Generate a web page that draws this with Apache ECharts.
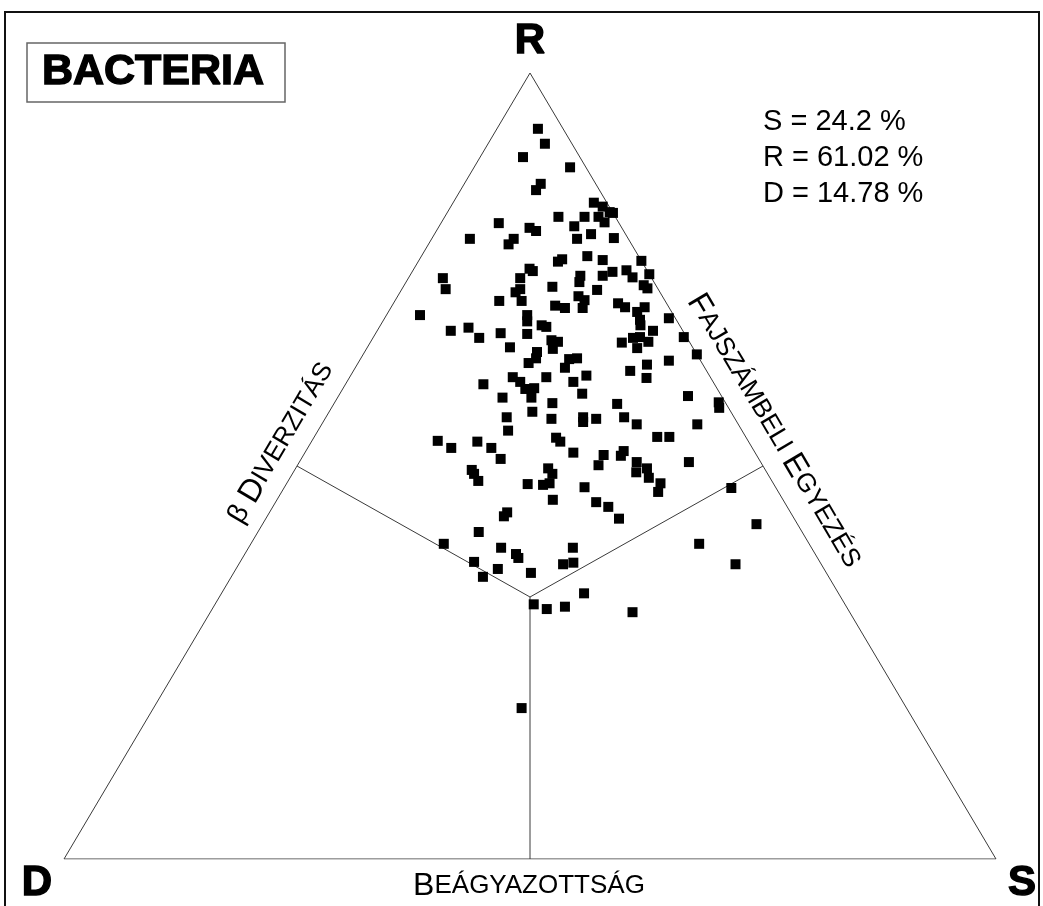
<!DOCTYPE html>
<html>
<head>
<meta charset="utf-8">
<script src="https://cdn.jsdelivr.net/npm/echarts@6/dist/echarts.min.js"></script>
<style>
  html, body { margin: 0; padding: 0; background: #ffffff; }
  #chart { width: 1043px; height: 906px; }
</style>
</head>
<body>
<div id="chart"></div>
<script>
// Ternary (CSR) composition of each bacterial community, in percent.
// S = competitor/stress share, R = ruderal share, D = remainder (100 - S - R).
const sShare = [
  4.4, 6.1, 4.6, 10.3, 8.2, 8.1, 12.2, 15.0, 6.2, 14.5, 9.8, 10.7, 4.1, 8.8, 8.6, 15.6, 16.8,
  15.1, 16.3, 17.4, 17.8, 16.5, 17.5, 19.5,
  15.3, 15.0, 17.8, 12.4, 12.9, 3.7, 4.7, 12.0, 16.0, 18.3, 18.6, 12.7, 12.4, 11.2, 13.6, 19.4,
  20.3, 20.6, 17.5, 18.7, 3.6, 15.1, 15.5, 7.9, 9.6, 11.4, 13.4, 16.3, 17.3, 17.9, 19.3, 20.1,
  20.0, 15.3, 18.5, 18.8, 18.3, 22.4, 23.2, 22.5,
  19.7, 23.9, 21.5, 20.7, 22.9, 24.0, 25.6, 25.7, 26.3, 21.0, 24.1, 25.1, 26.7, 27.2, 27.5, 27.9,
  30.5, 29.6, 33.3, 27.0, 27.9, 28.6, 29.8, 29.0, 35.8, 31.1, 33.2, 29.7,
  14.8, 17.5, 18.6, 19.6, 20.5, 21.1, 24.3, 25.3, 17.7, 20.8, 23.4, 26.0, 19.4, 21.8, 24.3, 27.6,
  27.9, 20.4, 13.5, 15.4, 17.8, 19.7, 21.4, 26.0, 26.7, 28.8, 19.0, 19.5, 20.4, 27.1, 27.9, 28.2,
  27.6, 25.9, 29.6, 32.2,
  31.9, 37.5, 41.2, 41.6, 30.4, 29.1, 32.0, 33.8, 40.3, 36.8, 38.1, 32.2, 34.1, 34.1, 32.3, 36.2,
  36.8, 37.7, 38.5, 40.1, 40.4, 41.8, 48.0, 34.4, 36.0,
  25.5, 25.4, 37.9, 53.0, 23.7, 20.7, 27.1, 29.1, 29.6, 34.8, 48.1, 25.1, 28.1, 27.0, 31.9, 34.8,
  35.8, 53.3, 38.9, 34.2, 35.9, 37.7, 45.3, 39.5
];
const rShare = [
  92.9, 91.0, 89.3, 88.0, 85.9, 85.1, 81.7, 81.7, 80.9, 80.5, 80.3, 79.9, 78.9, 78.9, 78.2, 78.9, 79.5,
  83.5, 83.0, 82.3, 82.2, 81.7, 81.0, 79.0,
  76.3, 76.0, 76.7, 75.1, 74.8, 73.9, 72.5, 73.9, 72.8, 74.2, 73.4, 72.5, 72.1, 71.0, 71.0, 71.6,
  71.1, 70.1, 70.4, 70.1, 69.2, 69.2, 68.4, 67.2, 67.6, 66.3, 66.9, 66.8, 67.9, 67.7, 66.0, 65.8,
  64.9, 65.1, 64.5, 63.7, 63.1, 63.6, 63.7, 62.5,
  76.2, 76.1, 74.7, 74.2, 74.9, 74.0, 74.4, 73.0, 72.6, 72.4, 70.7, 70.2, 69.6, 70.2, 68.6, 67.9,
  68.8, 67.2, 66.4, 65.7, 66.3, 66.4, 65.8, 65.0, 64.2, 62.9, 63.4, 62.1,
  60.4, 61.3, 60.7, 59.8, 59.9, 61.3, 60.7, 61.5, 58.7, 58.7, 58.0, 59.2, 56.2, 56.9, 56.0, 56.2,
  55.6, 54.5, 53.2, 52.3, 53.1, 52.3, 50.9, 53.6, 53.1, 51.7, 49.5, 49.0, 48.1, 49.7, 49.0, 47.8,
  47.6, 47.7, 45.7, 47.3,
  61.2, 58.9, 58.1, 57.4, 57.9, 56.0, 56.2, 55.3, 55.3, 53.7, 53.7, 51.4, 51.9, 51.3, 50.1, 50.5,
  49.2, 49.7, 48.5, 47.8, 46.7, 50.5, 47.2, 45.4, 44.8,
  44.1, 43.6, 43.3, 42.6, 41.6, 40.1, 39.6, 38.8, 38.3, 39.6, 40.1, 37.8, 36.9, 35.9, 36.4, 37.5,
  37.7, 37.5, 33.8, 32.4, 31.8, 32.1, 31.4, 19.2
];
const dShare = [
  2.7, 2.9, 6.1, 1.7, 5.9, 6.8, 6.1, 3.3, 12.9, 5.0, 9.9, 9.4, 17.0, 12.3, 13.2, 5.5, 3.7,
  1.4, 0.7, 0.3, 0.0, 1.8, 1.5, 1.5,
  8.4, 9.0, 5.5, 12.5, 12.3, 22.4, 22.8, 14.1, 11.2, 7.5, 8.0, 14.8, 15.5, 17.8, 15.4, 9.0,
  8.6, 9.3, 12.1, 11.2, 27.2, 15.7, 16.1, 24.9, 22.8, 22.3, 19.7, 16.9, 14.8, 14.4, 14.7, 14.1,
  15.1, 19.6, 17.0, 17.5, 18.6, 14.0, 13.1, 15.0,
  4.1, 0.0, 3.8, 5.1, 2.2, 2.0, 0.0, 1.3, 1.1, 6.6, 5.2, 4.7, 3.7, 2.6, 3.9, 4.2,
  0.7, 3.2, 0.3, 7.3, 5.8, 5.0, 4.4, 6.0, 0.0, 6.0, 3.4, 8.2,
  24.8, 21.2, 20.7, 20.6, 19.6, 17.6, 15.0, 13.2, 23.6, 20.5, 18.6, 14.8, 24.4, 21.3, 19.7, 16.2,
  16.5, 25.1, 33.3, 32.3, 29.1, 28.0, 27.7, 20.4, 20.2, 19.5, 31.5, 31.5, 31.5, 23.2, 23.1, 24.0,
  24.8, 26.4, 24.7, 20.5,
  6.9, 3.6, 0.7, 1.0, 11.7, 14.9, 11.8, 10.9, 4.4, 9.5, 8.2, 16.4, 14.0, 14.6, 17.6, 13.3,
  14.0, 12.6, 13.0, 12.1, 12.9, 7.7, 4.8, 20.2, 19.2,
  30.4, 31.0, 18.8, 4.4, 34.7, 39.2, 33.3, 32.1, 32.1, 25.6, 11.8, 37.1, 35.0, 37.1, 31.7, 27.7,
  26.5, 9.2, 27.3, 33.4, 32.3, 30.2, 23.3, 41.3
];

// Mean composition printed in the corner.
const meanLabels = ['S = 24.2 %', 'R = 61.02 %', 'D = 14.78 %'];
// Corner letters of the triangle.
const cornerLabels = { top: 'R', left: 'D', right: 'S' };
const chartTitle = 'BACTERIA';

// Strategy zones: every corner's region is bounded by lines from the centroid
// to the mid-points of the edges. Points given as [S, R, D].
const triangleOutline = [[0, 0, 100], [100, 0, 0], [0, 100, 0], [0, 0, 100]];
const centroid = [100 / 3, 100 / 3, 100 / 3];
const edgeMidpoints = [[0, 50, 50], [50, 50, 0], [50, 0, 50]];

// Ternary -> cartesian (D corner at x = 0, S corner at x = 100, R apex at y = 100).
function toXY(s, r) { return [s + r / 2, r]; }

const points = sShare.map((s, i) => toXY(s, rShare[i]));

const FONT = '"Liberation Sans", Arial, sans-serif';
const lineStyle = { color: '#3a3a3a', width: 1 };

const series = [
  {
    type: 'line',
    data: triangleOutline.map(p => toXY(p[0], p[1])),
    symbol: 'none', silent: true, lineStyle, z: 1
  }
];
edgeMidpoints.forEach(m => {
  series.push({
    type: 'line',
    data: [toXY(centroid[0], centroid[1]), toXY(m[0], m[1])],
    symbol: 'none', silent: true, lineStyle, z: 1
  });
});
series.push({
  type: 'scatter',
  data: points,
  symbol: 'rect',
  symbolSize: 10,
  itemStyle: { color: '#000000', opacity: 1 },
  z: 3
});

const small = { fontFamily: FONT, fontSize: 26, fill: '#000' };
const big = { fontFamily: FONT, fontSize: 32, fill: '#000' };
// Heavy display lettering: bold face with a thin outline of the same colour.
const heavy = (size) => ({
  font: 'bold ' + size + 'px ' + FONT, fill: '#000', stroke: '#000', lineWidth: 1.4,
  align: 'center', verticalAlign: 'middle'
});

const chart = echarts.init(document.getElementById('chart'));
chart.setOption({
  backgroundColor: '#ffffff',
  animation: false,
  grid: { left: 64, top: 73, width: 932, height: 786 },
  xAxis: { type: 'value', min: 0, max: 100, show: false },
  yAxis: { type: 'value', min: 0, max: 100, show: false },
  series,
  graphic: [
    { type: 'rect', shape: { x: 5, y: 12, width: 1034, height: 900 },
      style: { fill: 'none', stroke: '#111', lineWidth: 2 }, silent: true },
    { type: 'rect', shape: { x: 27, y: 43, width: 258, height: 59 },
      style: { fill: '#fff', stroke: '#666', lineWidth: 1.5 }, silent: true },
    { type: 'text', x: 153, y: 72, style: Object.assign({ text: chartTitle }, heavy(43)) },
    { type: 'text', x: 530, y: 41, style: Object.assign({ text: cornerLabels.top }, heavy(42)) },
    { type: 'text', x: 37, y: 883, style: Object.assign({ text: cornerLabels.left }, heavy(42)) },
    { type: 'text', x: 1022, y: 883, style: Object.assign({ text: cornerLabels.right }, heavy(42)) },
    ...meanLabels.map((t, i) => ({
      type: 'text', x: 763, y: 136 + i * 36,
      style: { text: t, font: '29px ' + FONT, fill: '#000', align: 'left', verticalAlign: 'bottom' }
    })),
    { type: 'text', x: 281, y: 443, rotation: Math.atan2(786, 466),
      style: { text: '{g|β }{b|D}{s|IVERZITÁS}', align: 'center', verticalAlign: 'middle',
        rich: { g: { fontFamily: FONT, fontSize: 28, fill: '#000' }, b: big, s: small } } },
    { type: 'text', x: 774, y: 431, rotation: -Math.atan2(786, 466),
      style: { text: '{b|F}{s|AJSZÁMBELI }{b|E}{s|GYEZÉS}', align: 'center', verticalAlign: 'middle',
        rich: { b: big, s: small } } },
    { type: 'text', x: 529, y: 886,
      style: { text: '{b|B}{s|EÁGYAZOTTSÁG}', align: 'center', verticalAlign: 'middle',
        rich: { b: big, s: small } } }
  ]
});
</script>
</body>
</html>
